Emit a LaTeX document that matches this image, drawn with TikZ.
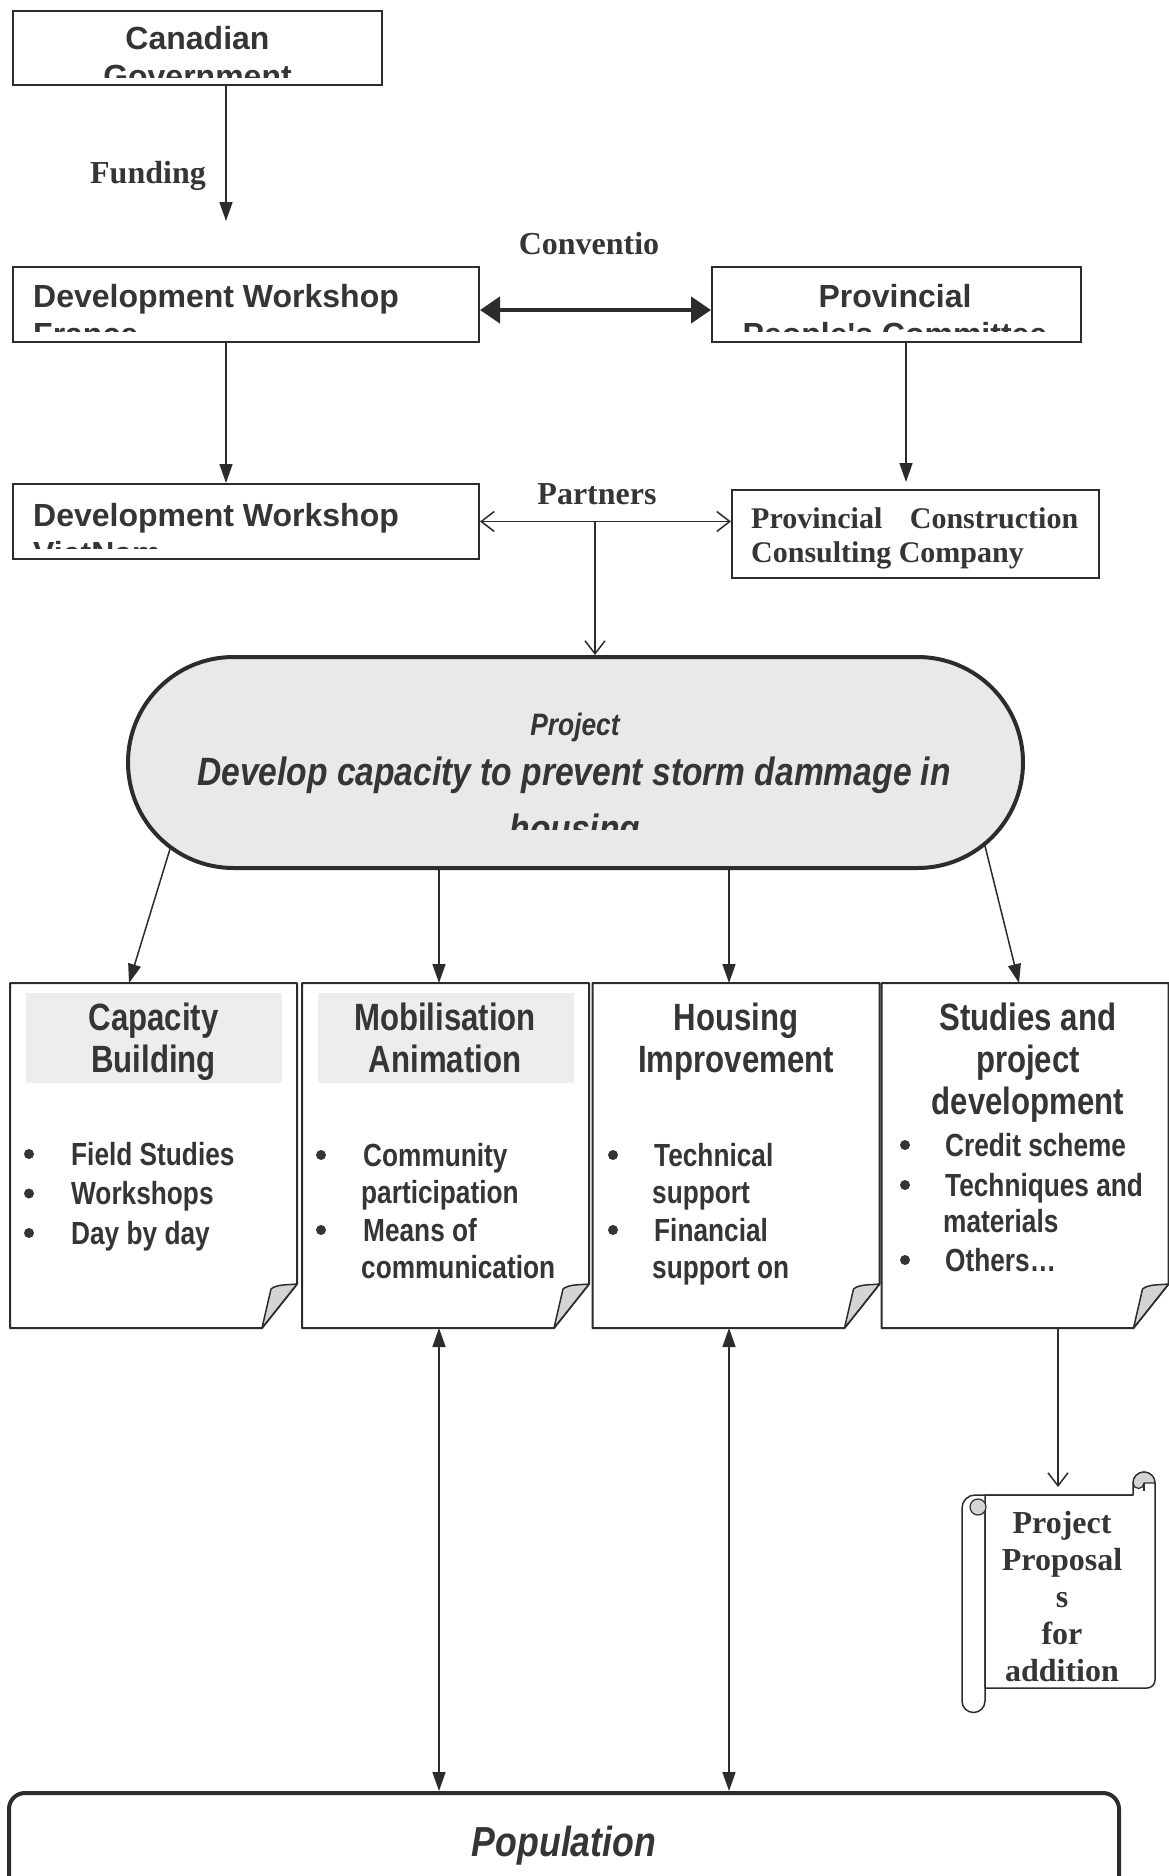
\documentclass[tikz,border=0pt]{standalone}
\usepackage{fontspec}
\usepackage{graphicx}
\setmainfont{Liberation Serif}
\newfontfamily\arialf{Liberation Sans}
\newfontfamily\narrowf{Liberation Sans}[FakeStretch=0.82]
\newfontfamily\projf{Liberation Sans}[FakeStretch=0.85]
\usetikzlibrary{arrows.meta,shapes.misc}
\definecolor{ink}{HTML}{2C2C2C}
\definecolor{txt}{HTML}{353535}
\definecolor{stadfill}{HTML}{E9E9E9}
\definecolor{foldg}{HTML}{D4D4D4}
\definecolor{hdrg}{HTML}{EDEDED}
\newcommand\docpage[1]{%
  \draw[pageline] (#1.north west) -- (#1.north east) -- ([yshift=44pt]#1.south east)
    -- ([xshift=-35pt]#1.south east) -- (#1.south west) -- cycle;
  \draw[foldline] ([xshift=-35pt]#1.south east) -- ([xshift=-26pt,yshift=39pt]#1.south east)
    .. controls ([xshift=-20pt,yshift=44pt]#1.south east) and ([xshift=-9pt,yshift=43pt]#1.south east)
    .. ([yshift=44pt]#1.south east) -- cycle;}
\begin{document}
\begin{tikzpicture}[x=1pt,y=-1pt,
  topbox/.style={draw=ink,line width=2pt,rectangle,inner sep=0pt},
  sanshead/.style={font=\arialf\bfseries\fontsize{32}{38}\selectfont,text=txt,inner sep=0pt},
  serifl/.style={font=\bfseries\fontsize{32}{38}\selectfont,text=txt,inner sep=0pt},
  boxtitle/.style={font=\narrowf\bfseries\fontsize{38}{42}\selectfont,text=txt,inner sep=0pt,anchor=base},
  boxitem/.style={font=\narrowf\bfseries\fontsize{32}{38}\selectfont,text=txt,inner sep=0pt,anchor=base west},
  conn/.style={draw=ink,line width=1.5pt},
  filltip/.style={conn,-{Triangle[length=19pt,width=13pt]}},
  dfilltip/.style={conn,{Triangle[length=19pt,width=13pt]}-{Triangle[length=19pt,width=13pt]}},
  opentip/.style={conn,-{Straight Barb[length=13pt,width=20pt]}},
  dopentip/.style={conn,{Straight Barb[length=13pt,width=20pt]}-{Straight Barb[length=13pt,width=20pt]}},
  pageline/.style={draw=ink,line width=2pt,fill=white,line join=round},
  foldline/.style={draw=ink,line width=1.5pt,fill=foldg,line join=round},
  docbox/.style={minimum width=287pt,minimum height=345pt,inner sep=0pt,outer sep=0pt},
]
\useasboundingbox (0,0) rectangle (1169,1876);
\fill[white] (0,0) rectangle (1169,1876);

% ---------- top boxes ----------
\node[topbox,minimum width=369pt,minimum height=74pt] (can) at (197.5,48) {};
\begin{scope}
  \clip (13,11) rectangle (382,77);
  \node[sanshead,anchor=base] (can1) at (197.5,50) {Canadian};
  \node[sanshead,anchor=base] (can2) at (197.5,88) {Government};
\end{scope}

\node[topbox,minimum width=466pt,minimum height=75pt] (dwf) at (246,304.5) {};
\begin{scope}
  \clip (13,267) rectangle (479,331);
  \node[sanshead,anchor=base west] (dwf1) at (33,307) {Development Workshop};
  \node[sanshead,anchor=base west] (dwf2) at (33,345) {France};
\end{scope}

\node[topbox,minimum width=369pt,minimum height=75pt] (prov) at (896.5,304.5) {};
\begin{scope}
  \clip (712,267) rectangle (1081,331);
  \node[sanshead,anchor=base] (prov1) at (895,307) {Provincial};
  \node[sanshead,anchor=base] (prov2) at (895,345) {People's Committee};
\end{scope}

\node[topbox,minimum width=466pt,minimum height=75pt] (dwv) at (246,521.5) {};
\begin{scope}
  \clip (13,484) rectangle (479,548);
  \node[sanshead,anchor=base west] (dwv1) at (33,526) {Development Workshop};
  \node[sanshead,anchor=base west] (dwv2) at (33,564) {VietNam};
\end{scope}

\node[topbox,minimum width=367pt,minimum height=88pt] (pccc) at (915.5,534) {};
\node[serifl,font=\bfseries\fontsize{30}{36}\selectfont,anchor=base west] (pccc1) at (751,528) {\makebox[327pt][s]{Provincial Construction}};
\node[serifl,font=\bfseries\fontsize{30}{36}\selectfont,anchor=base west] (pccc2) at (751,562) {Consulting Company};

% ---------- labels ----------
\node[serifl,anchor=base] (fund) at (148,183) {Funding};
\node[serifl,anchor=base] (conv) at (589,254) {Conventio};
\node[serifl,anchor=base] (partn) at (597,504) {Partners};

% ---------- project stadium ----------
\node[draw=ink,line width=4pt,fill=stadfill,rounded rectangle,minimum width=895pt,minimum height=211pt,inner sep=0pt] (proj) at (575.5,762.5) {};
\begin{scope}
  \clip (130,657) rectangle (1021,829);
  \node[text=txt,inner sep=0pt,anchor=base,font=\projf\bfseries\itshape\fontsize{31}{36}\selectfont] (proj1) at (575,735) {Project};
  \node[text=txt,inner sep=0pt,anchor=base,font=\projf\bfseries\itshape\fontsize{39.5}{46}\selectfont] (proj2) at (574,785) {Develop capacity to prevent storm dammage in};
  \node[text=txt,inner sep=0pt,anchor=base,font=\projf\bfseries\itshape\fontsize{39.5}{46}\selectfont] (proj3) at (575,842) {housing};
\end{scope}

% ---------- document boxes ----------
\node[docbox] (b1) at (153.5,1155.5) {};
\node[docbox] (b2) at (445.5,1155.5) {};
\node[docbox] (b3) at (736,1155.5) {};
\node[docbox] (b4) at (1025,1155.5) {};
\docpage{b1}
\docpage{b2}
\docpage{b3}
\docpage{b4}
\fill[hdrg] (26,993) rectangle (282,1083);
\fill[hdrg] (318,993) rectangle (574,1083);

\node[boxtitle] (t1a) at (153.5,1030) {Capacity};
\node[boxtitle] (t1b) at (153.5,1072) {Building};
\node[boxtitle] (t2a) at (445,1030) {Mobilisation};
\node[boxtitle] (t2b) at (445,1072) {Animation};
\node[boxtitle] (t3a) at (736,1030) {Housing};
\node[boxtitle] (t3b) at (736,1072) {Improvement};
\node[boxtitle] (t4a) at (1028,1030) {Studies and};
\node[boxtitle] (t4b) at (1028,1072) {project};
\node[boxtitle] (t4c) at (1028,1114) {development};

% box 1 items
\node[boxitem] (i11) at (71,1165) {Field Studies};
\node[boxitem] (i12) at (71,1204.5) {Workshops};
\node[boxitem] (i13) at (71,1244) {Day by day};
\foreach \yy in {1165,1204.5,1244} \fill[txt] (29,\yy-11) circle (5pt);
% box 2 items
\node[boxitem] (i21) at (363,1166) {Community};
\node[boxitem] (i22) at (361,1203) {participation};
\node[boxitem] (i23) at (363,1241) {Means of};
\node[boxitem] (i24) at (361,1278) {communication};
\foreach \yy in {1166,1241} \fill[txt] (321,\yy-11) circle (5pt);
% box 3 items
\node[boxitem] (i31) at (654,1166) {Technical};
\node[boxitem] (i32) at (652,1203) {support};
\node[boxitem] (i33) at (654,1241) {Financial};
\node[boxitem] (i34) at (652,1278) {support on};
\foreach \yy in {1166,1241} \fill[txt] (613,\yy-11) circle (5pt);
% box 4 items
\node[boxitem] (i41) at (945,1156) {Credit scheme};
\node[boxitem] (i42) at (945,1196) {Techniques and};
\node[boxitem] (i43) at (943,1232) {materials};
\node[boxitem] (i44) at (945,1271) {Others…};
\foreach \yy in {1156,1196,1271} \fill[txt] (905,\yy-11) circle (5pt);

% ---------- scroll ----------
\node[minimum width=193pt,minimum height=240pt,inner sep=0pt] (scroll) at (1058.5,1592) {};
\draw[draw=ink,line width=1.5pt,fill=white,line join=round]
  (1133,1495) -- (975,1495) arc[start angle=90,end angle=180,radius=13pt]
  -- (962,1701) arc[start angle=180,end angle=360,radius=11.5pt] -- (985,1506);
\draw[draw=ink,line width=1.5pt,fill=white,line join=round]
  (985,1506) -- (985,1688) -- (1147,1688) arc[start angle=270,end angle=360,radius=8pt]
  -- (1155,1483) arc[start angle=0,end angle=180,radius=11pt] -- (1133,1495) -- (985,1495) -- cycle;
\draw[draw=ink,line width=1.2pt,fill=foldg]
  (1155,1483) arc[start angle=0,end angle=180,radius=11pt]
  arc[start angle=180,end angle=360,radius=5.5pt] -- cycle;
\draw[draw=ink,line width=1.2pt] (1144,1483) -- (1144,1491);
\draw[draw=ink,line width=1.2pt,fill=foldg] (978,1507) circle (8pt);
\node[serifl,anchor=base] (sc1) at (1062,1533) {Project};
\node[serifl,anchor=base] (sc2) at (1062,1570) {Proposal};
\node[serifl,anchor=base] (sc3) at (1062,1607) {s};
\node[serifl,anchor=base] (sc4) at (1062,1644) {for};
\node[serifl,anchor=base] (sc5) at (1062,1681) {addition};

% ---------- population ----------
\node[draw=ink,line width=4pt,rounded corners=16pt,minimum width=1110pt,minimum height=200pt,inner sep=0pt] (pop) at (564,1893) {};
\node[text=txt,inner sep=0pt,anchor=base,font=\projf\bfseries\itshape\fontsize{42}{48}\selectfont] (poptxt) at (564,1856) {Population};

% ---------- connectors ----------
\coordinate (fundtip) at (226,221);
\draw[conn,-{Triangle[length=19pt,width=13pt]}] (can.south -| fundtip) -- (fundtip);
\draw[filltip] ([xshift=-20pt]dwf.south) -- ([xshift=-20pt]dwv.north);
\coordinate (pv) at (906,0);
\draw[filltip,shorten >=7pt] (prov.south -| pv) -- (pccc.north -| pv);
\draw[draw=ink,line width=4.5pt,{Triangle[length=20pt,width=26pt]}-{Triangle[length=20pt,width=26pt]}]
  ([yshift=-5.5pt]dwf.east) -- ([yshift=-5.5pt]prov.west);
\draw[dopentip] (dwv.east) -- (dwv.east -| pccc.west);
\coordinate (pmid) at (595,521.5);
\draw[opentip] (pmid) -- (proj.north -| pmid);

\coordinate (s1) at (170,849);
\coordinate (s4) at (985,846);
\coordinate (a2) at (439,0);
\coordinate (a3) at (729,0);
\draw[filltip] (s1) -- ([xshift=-24.5pt]b1.north);
\draw[filltip] (proj.south -| a2) -- (b2.north -| a2);
\draw[filltip] (proj.south -| a3) -- (b3.north -| a3);
\draw[filltip] (s4) -- ([xshift=-6pt]b4.north);

\draw[dfilltip] (b2.south -| a2) -- (pop.north -| a2);
\draw[dfilltip] (b3.south -| a3) -- (pop.north -| a3);

\coordinate (sx) at (1058,0);
\coordinate (scrtip) at (1058,1487);
\draw[opentip] (b4.south -| sx) -- (scrtip);
\end{tikzpicture}
\end{document}
